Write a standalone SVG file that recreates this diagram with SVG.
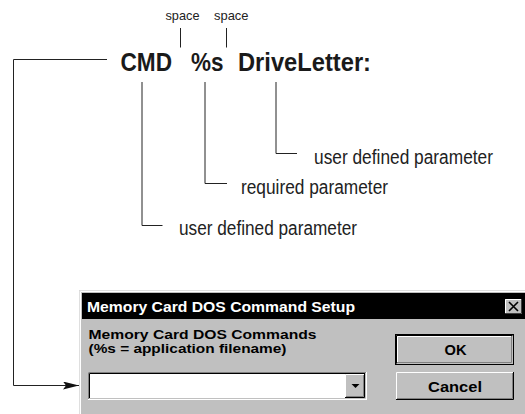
<svg xmlns="http://www.w3.org/2000/svg" width="525" height="414" viewBox="0 0 525 414">
<style>
.big{font-family:"Liberation Sans",Arial,sans-serif;font-weight:bold;font-size:26px;fill:#1a1a1a}
.sm{font-family:"Liberation Sans",Arial,sans-serif;font-size:13px;fill:#222}
.lbl{font-family:"Liberation Sans",Arial,sans-serif;font-size:20px;fill:#222}
.dlg{font-family:"Liberation Sans",Arial,sans-serif;font-weight:bold;font-size:13px;fill:#000}
.btn{font-family:"Liberation Sans",Arial,sans-serif;font-weight:bold;font-size:15px;fill:#000}
.ln{fill:none;stroke:#222;stroke-width:1}
</style>
<defs>
<marker id="ah" markerWidth="16" markerHeight="8" refX="16" refY="4" orient="auto" markerUnits="userSpaceOnUse">
<path d="M0,0 L16,4 L0,8 L3,4 Z" fill="#111"/>
</marker>
</defs>
<rect width="525" height="414" fill="#fff"/>

<g id="command">
<text class="big" x="120.5" y="71" textLength="51.5" lengthAdjust="spacingAndGlyphs">CMD</text>
<text class="big" x="191" y="71" textLength="32.5" lengthAdjust="spacingAndGlyphs">%s</text>
<text class="big" x="238" y="71" textLength="133" lengthAdjust="spacingAndGlyphs">DriveLetter:</text>
</g>
<g id="space1"><text class="sm" x="165.5" y="19.5" textLength="34" lengthAdjust="spacingAndGlyphs">space</text></g>
<g id="space2"><text class="sm" x="214" y="19.5" textLength="34.5" lengthAdjust="spacingAndGlyphs">space</text></g>
<g id="label-drive"><text class="lbl" x="314" y="164" textLength="179" lengthAdjust="spacingAndGlyphs">user defined parameter</text></g>
<g id="label-required"><text class="lbl" x="241" y="194" textLength="147" lengthAdjust="spacingAndGlyphs">required parameter</text></g>
<g id="label-cmd"><text class="lbl" x="179" y="235" textLength="178" lengthAdjust="spacingAndGlyphs">user defined parameter</text></g>

<g id="connectors">
<path class="ln" d="M180.5,28 V47.5"/>
<path class="ln" d="M226.5,28 V47.5"/>
<path class="ln" d="M142,82 V225.5 H162.5"/>
<path class="ln" d="M205,82 V183.5 H227"/>
<path class="ln" d="M276,82 V153.5 H297"/>
<path class="ln" d="M107,59.5 H13.5 V385.5 H79" marker-end="url(#ah)"/>
</g>

<g id="dialog">
<rect x="79" y="290" width="446" height="124" fill="#c0c0c0"/>
<path d="M79.5,414 V290.5 H525" fill="none" stroke="#dfdfdf" stroke-width="1"/>
<path d="M80.5,414 V291.5 H525" fill="none" stroke="#ffffff" stroke-width="1"/>
<rect x="82" y="293" width="443" height="26" fill="#000"/>
<text class="dlg" x="87" y="312" textLength="268" lengthAdjust="spacingAndGlyphs" style="fill:#fff;font-size:14.5px">Memory Card DOS Command Setup</text>
<g id="close">
<rect x="505" y="299" width="17" height="15" fill="#c0c0c0"/>
<path d="M505.5,313.5 V299.5 H521.5" fill="none" stroke="#fff"/>
<path d="M505,313.5 H521.5 V299" fill="none" stroke="#404040"/>
<path d="M509,302 L518,311 M518,302 L509,311" stroke="#000" stroke-width="1.6"/>
</g>
<text class="dlg" x="88.5" y="339" textLength="228" lengthAdjust="spacingAndGlyphs">Memory Card DOS Commands</text>
<text class="dlg" x="88.5" y="353" textLength="198" lengthAdjust="spacingAndGlyphs">(%s = application filename)</text>

<g id="ok">
<rect x="395.5" y="334.5" width="118" height="30" fill="#c0c0c0" stroke="#000" stroke-width="1"/>
<path d="M396.5,363.5 V335.5 H512.5" fill="none" stroke="#000"/>
<path d="M397.5,362.5 V336.5 H511" fill="none" stroke="#fff"/>
<path d="M397,362.5 H511.5 V336" fill="none" stroke="#808080"/>
<text class="btn" x="444.5" y="355" textLength="22" lengthAdjust="spacingAndGlyphs">OK</text>
</g>
<g id="cancel">
<rect x="396" y="372" width="118" height="28" fill="#c0c0c0"/>
<path d="M396.5,400 V372.5 H514" fill="none" stroke="#fff"/>
<path d="M396,399.5 H513.5 V372" fill="none" stroke="#000"/>
<path d="M397,398.5 H512.5 V373" fill="none" stroke="#808080"/>
<text class="btn" x="428" y="391.5" textLength="54" lengthAdjust="spacingAndGlyphs">Cancel</text>
</g>
<g id="combo">
<rect x="88" y="372" width="279" height="28" fill="#fff"/>
<path d="M88.5,400 V372.5 H367" fill="none" stroke="#808080"/>
<path d="M89.5,399 V373.5 H366" fill="none" stroke="#000"/>
<path d="M88,399.5 H366.5 V372" fill="none" stroke="#fff"/>
<path d="M89,398.5 H365.5 V373" fill="none" stroke="#c0c0c0"/>
<rect x="345" y="374" width="20" height="24" fill="#c0c0c0"/>
<path d="M345.5,398 V374.5 H365" fill="none" stroke="#fff"/>
<path d="M345,397.5 H364.5 V374" fill="none" stroke="#000"/>
<path d="M346,396.5 H363.5 V375" fill="none" stroke="#808080"/>
<path d="M351.5,384 H359.5 L355.5,388 Z" fill="#000"/>
</g>
</g>
</svg>
